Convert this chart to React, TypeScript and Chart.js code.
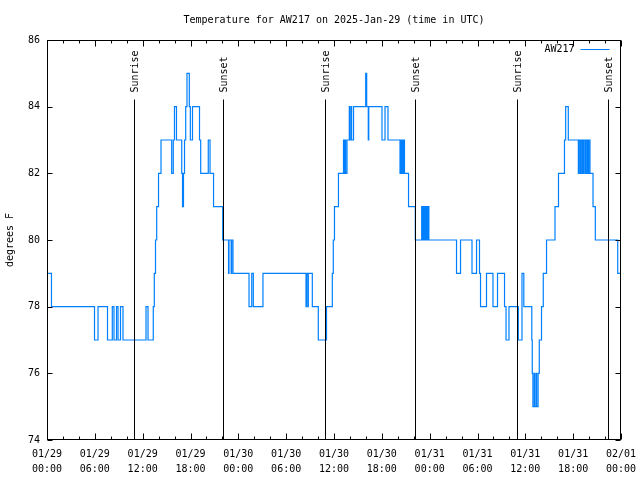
import { useEffect, useRef } from 'react';
import { Chart, registerables } from 'chart.js';

Chart.register(...registerables);

const TITLE = 'Temperature for AW217 on 2025-Jan-29 (time in UTC)';
const SERIES_LABEL = 'AW217';
const Y_LABEL = 'degrees F';
const SUNRISE_LABEL = 'Sunrise';
const SUNSET_LABEL = 'Sunset';

// hours since 2025-01-29 00:00 UTC at which the reading changed, and the new reading (deg F)
const changeHours = [
  0.15, 0.56, 5.96, 6.4, 7.59, 8.19, 8.4, 8.72, 8.91, 9.22,
  9.53, 12.42, 12.67, 13.33, 13.46, 13.61, 13.76, 13.99, 14.3, 15.64,
  15.84, 15.99, 16.24, 16.9, 17.0, 17.12, 17.25, 17.4, 17.56, 17.85,
  17.98, 18.25, 19.13, 19.28, 20.23, 20.45, 20.89, 22.04, 22.77, 22.83,
  23.1, 23.16, 23.33, 25.34, 25.68, 25.88, 27.09, 32.49, 32.55, 32.72,
  32.78, 33.28, 34.03, 35.06, 35.79, 35.91, 36.06, 36.56, 37.19, 37.25,
  37.4, 37.46, 37.63, 37.92, 37.98, 38.15, 38.21, 38.45, 39.98, 40.1,
  40.3, 40.36, 42.02, 42.4, 42.77, 44.28, 44.34, 44.48, 44.54, 44.68,
  44.74, 44.84, 45.35, 46.2, 47.0, 47.06, 47.21, 47.27, 47.42, 47.48,
  47.63, 47.69, 47.84, 47.9, 51.37, 51.87, 53.31, 53.88, 54.25, 54.38,
  55.13, 55.94, 56.51, 57.39, 57.58, 57.95, 59.12, 59.58, 59.81, 60.81,
  60.87, 60.95, 61.12, 61.18, 61.36, 61.42, 61.6, 61.75, 62.03, 62.25,
  62.66, 63.72, 64.16, 64.91, 65.06, 65.39, 66.65, 66.7, 66.86, 66.91,
  67.07, 67.12, 67.27, 67.32, 67.49, 67.54, 67.7, 67.75, 67.9, 67.95,
  68.11, 68.49, 68.78, 71.59, 71.95,
];
const changeTemps = [
  79, 78, 77, 78, 77, 78, 77, 78, 77, 78,
  77, 78, 77, 78, 79, 80, 81, 82, 83, 82,
  83, 84, 83, 82, 81, 82, 83, 84, 85, 84,
  83, 84, 83, 82, 83, 82, 81, 80, 79, 80,
  79, 80, 79, 78, 79, 78, 79, 78, 79, 78,
  79, 78, 77, 78, 79, 80, 81, 82, 83, 82,
  83, 82, 83, 84, 83, 84, 83, 84, 85, 84,
  83, 84, 83, 84, 83, 82, 83, 82, 83, 82,
  83, 82, 81, 80, 81, 80, 81, 80, 81, 80,
  81, 80, 81, 80, 79, 80, 79, 80, 79, 78,
  79, 78, 79, 78, 77, 78, 77, 79, 78, 77,
  76, 75, 76, 75, 76, 75, 76, 77, 78, 79,
  80, 81, 82, 83, 84, 83, 82, 83, 82, 83,
  82, 83, 82, 83, 82, 83, 82, 83, 82, 83,
  82, 81, 80, 79, 79,
];

const sunriseHours = [10.95, 34.91, 58.99];
const sunsetHours = [22.11, 46.2, 70.33];

const dayLabels = ['01/29', '01/30', '01/31', '02/01'];
const hourLabels = ['00:00', '06:00', '12:00', '18:00'];

const X_MIN = 0;
const X_MAX = 72;
const X_MAJOR = 6;
const X_MINOR = 2;
const Y_MIN = 74;
const Y_MAX = 86;
const Y_STEP = 2;

const FONT = "'DejaVu Sans Mono', monospace";
const LINE_COLOR = 'rgb(0,128,255)';

const overlayPlugin = {
  id: 'gnuplotOverlay',
  afterDatasetsDraw(chart: any) {
    const { ctx, chartArea: a, scales } = chart;
    const xs = scales.x;
    const ys = scales.y;
    const L = Math.round(a.left) + 0.5;
    const R = Math.round(a.right) - 0.5;
    const T = Math.round(a.top) + 0.5;
    const B = Math.round(a.bottom) - 0.5;
    ctx.save();
    ctx.strokeStyle = '#000';
    ctx.fillStyle = '#000';
    ctx.lineWidth = 1;
    ctx.font = `10px ${FONT}`;

    // sunrise / sunset markers
    const drawSun = (hours: number[], label: string) => {
      hours.forEach((h) => {
        const px = Math.round(xs.getPixelForValue(h)) + 0.5;
        ctx.beginPath();
        ctx.moveTo(px, T + 59);
        ctx.lineTo(px, B);
        ctx.stroke();
        ctx.save();
        ctx.translate(px + 1, T + 52);
        ctx.rotate(-Math.PI / 2);
        ctx.textAlign = 'left';
        ctx.textBaseline = 'middle';
        ctx.fillText(label, 0, 0);
        ctx.restore();
      });
    };
    drawSun(sunriseHours, SUNRISE_LABEL);
    drawSun(sunsetHours, SUNSET_LABEL);

    // frame
    ctx.strokeRect(L, T, R - L, B - T);

    // x ticks (inward, bottom and top)
    ctx.beginPath();
    for (let v = X_MIN; v <= X_MAX; v += X_MINOR) {
      const px = Math.round(xs.getPixelForValue(v)) + 0.5;
      const len = v % X_MAJOR === 0 ? 6 : 3;
      ctx.moveTo(px, B);
      ctx.lineTo(px, B - len);
      ctx.moveTo(px, T);
      ctx.lineTo(px, T + len);
    }
    // y ticks (inward, left and right)
    for (let v = Y_MIN; v <= Y_MAX; v += Y_STEP) {
      const py = Math.round(ys.getPixelForValue(v)) + 0.5;
      ctx.moveTo(L, py);
      ctx.lineTo(L + 5, py);
      ctx.moveTo(R, py);
      ctx.lineTo(R - 5, py);
    }
    ctx.stroke();

    // key
    const ds = chart.data.datasets[0];
    const ky = T + 9;
    ctx.textAlign = 'right';
    ctx.textBaseline = 'middle';
    ctx.fillText(ds.label, R - 46, ky);
    ctx.strokeStyle = ds.borderColor;
    ctx.beginPath();
    ctx.moveTo(R - 40, ky);
    ctx.lineTo(R - 11, ky);
    ctx.stroke();
    ctx.restore();
  },
};

export default function App() {
  const ref = useRef<HTMLCanvasElement | null>(null);

  useEffect(() => {
    if (!ref.current) return;
    Chart.defaults.font.family = FONT;
    Chart.defaults.font.size = 10;
    Chart.defaults.color = '#000';
    const chart = new Chart(ref.current, {
      type: 'line',
      data: {
        datasets: [
          {
            label: SERIES_LABEL,
            data: changeHours.map((t, i) => ({ x: t, y: changeTemps[i] })),
            stepped: true,
            borderColor: LINE_COLOR,
            borderWidth: 1.2,
            pointRadius: 0,
            fill: false,
          },
        ],
      },
      options: {
        responsive: false,
        animation: false,
        devicePixelRatio: 1,
        layout: { padding: { left: 0, right: 19, top: 0, bottom: 0 } },
        plugins: {
          legend: { display: false },
          tooltip: { enabled: false },
          title: {
            display: true,
            text: TITLE,
            fullSize: false,
            color: '#000',
            font: { family: FONT, size: 10, weight: 'normal', lineHeight: 1.2 },
            padding: { top: 14, bottom: 14 },
          },
        },
        scales: {
          x: {
            type: 'linear',
            min: X_MIN,
            max: X_MAX,
            grid: { display: false, drawTicks: false },
            border: { display: false },
            afterFit: (s: any) => {
              s.height = 40;
              s.paddingLeft = 0;
              s.paddingRight = 0;
            },
            ticks: {
              stepSize: X_MAJOR,
              autoSkip: false,
              maxRotation: 0,
              minRotation: 0,
              padding: 7,
              color: '#000',
              font: { family: FONT, size: 10, lineHeight: 1.5 },
              callback: (value: any) => {
                const idx = Math.round(Number(value) / X_MAJOR);
                return [dayLabels[Math.floor(idx / 4)], hourLabels[idx % 4]];
              },
            },
          },
          y: {
            type: 'linear',
            min: Y_MIN,
            max: Y_MAX,
            grid: { display: false, drawTicks: false },
            border: { display: false },
            afterFit: (s: any) => {
              s.width = 47;
            },
            title: {
              display: true,
              text: Y_LABEL,
              color: '#000',
              font: { family: FONT, size: 10, lineHeight: 1.2 },
              padding: { top: 4, bottom: 0 },
            },
            ticks: {
              stepSize: Y_STEP,
              padding: 7,
              color: '#000',
              font: { family: FONT, size: 10 },
            },
          },
        },
      },
      plugins: [overlayPlugin],
    });
    return () => chart.destroy();
  }, []);

  return (
    <div style={{ position: 'fixed', left: 0, top: 0, width: 640, height: 480, background: '#fff' }}>
      <canvas ref={ref} width={640} height={480} />
    </div>
  );
}
